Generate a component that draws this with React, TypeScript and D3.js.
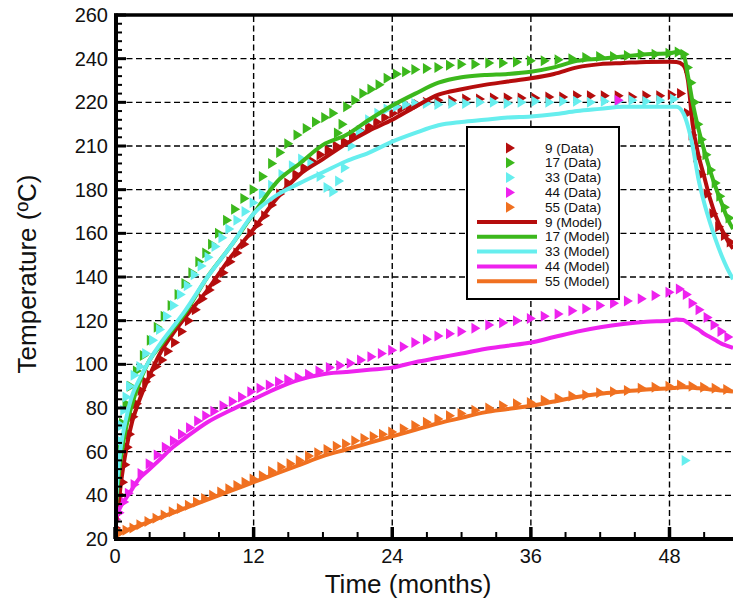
import React from "react";
import * as d3 from "d3";

const W = 733;
const H = 605;

const xTicks = [0, 12, 24, 36, 48];
const xTickLabels = ["0", "12", "24", "36", "48"];
const xMinorTicks = [3, 6, 9, 15, 18, 21, 27, 30, 33, 39, 42, 45, 51];
const yTicks = [20, 40, 60, 80, 100, 120, 140, 160, 180, 200, 220, 240, 260];
const yTickLabels = ["20", "40", "60", "80", "100", "120", "140", "160", "180", "210", "220", "240", "260"];

const modelTime = [0, 0.25, 0.5, 1, 1.5, 2, 3, 4, 5, 6, 8, 10, 12, 14, 16, 18, 20, 22, 24, 26, 28, 30, 32, 34, 36, 38, 40, 42, 44, 46, 48, 48.6, 49.2, 49.6, 50, 50.5, 51, 51.5, 52, 52.5, 53, 53.5];
const model9 = [24, 33, 45, 62, 74, 82, 95, 106, 114, 121, 134, 149, 162, 176, 187, 194, 201, 207, 212, 218, 223.5, 226, 228, 229.5, 231, 233, 236, 237.5, 238, 238.5, 238.6, 238.5, 237, 230, 210, 196, 186, 176, 168, 162, 157, 153];
const model17 = [30, 45, 57, 72, 82, 90, 102, 109, 116, 123, 140, 154, 169, 183.5, 192, 200.5, 205, 212, 218.5, 224, 229, 231.5, 232.5, 233, 234, 236, 239, 240, 241, 242, 242.5, 243, 242, 232, 220, 208, 198, 189, 181, 174, 167, 162];
const model33 = [30, 50, 62, 76, 86, 92, 102, 110, 117, 124, 140, 154, 169, 177.5, 183, 188, 193, 197, 202, 206, 209.5, 211, 212, 213, 213.5, 214.5, 216, 217, 218, 218, 218, 218, 215, 209, 200, 185, 174, 165, 157, 150, 144, 139];
const model44 = [28, 32, 35, 39, 43, 47, 52, 57, 62, 66, 73.5, 79, 84, 89, 93, 95.5, 96.5, 97.5, 98.5, 101, 103, 105, 107, 108.5, 110, 112.5, 115, 117, 118.5, 119.5, 120, 120.5, 120.3, 119, 117.5, 116, 114, 112.5, 111, 109.5, 108.5, 107.5];
const model55 = [22, 22.5, 23, 24, 25, 26, 28, 30, 32, 34, 38, 42, 46, 50, 54, 58, 61, 64, 67, 70, 73, 75.5, 78, 79.5, 81, 83, 85, 86.5, 87.5, 88.5, 89, 89.3, 89.5, 89.5, 89.3, 89, 88.8, 88.5, 88.3, 88, 87.8, 87.5];

const data9Time = [0.1, 0.3, 0.5, 0.7, 0.9, 1.1, 1.3, 1.6, 1.9, 2.3, 2.7, 3.1, 3.6, 4.1, 4.6, 5.2, 5.8, 6.4, 7.0, 7.6, 8.2, 8.8, 9.4, 10.0, 10.6, 11.2, 11.8, 12.4, 13.0, 13.6, 14.3, 15.0, 15.7, 16.4, 17.1, 17.8, 18.5, 19.2, 19.9, 20.6, 21.3, 22.0, 22.7, 23.4, 24.1, 24.8, 25.5, 26.2, 27.0, 28.0, 29.2, 30.4, 31.6, 32.8, 34.0, 35.2, 36.4, 37.6, 38.8, 40.0, 41.2, 42.4, 43.6, 44.8, 46.0, 47.2, 48.2, 49.0, 49.6, 50.0, 50.4, 50.8, 51.3, 51.8, 52.3, 52.8, 53.3];
const data9Temp = [25, 32, 40, 46, 54, 62, 68, 76, 82, 88, 92, 95, 99, 102, 106, 110, 115, 120, 125, 130, 134, 138, 142, 147, 151, 155, 160, 164, 168, 173, 178, 183, 187, 190, 193, 196, 198, 200, 202, 205, 207, 209, 211, 213, 215, 217, 218, 219, 220, 221, 221, 221.5, 221.5, 222, 222, 222, 222, 222.5, 222.5, 223, 223, 223, 223, 222.5, 223, 223, 223.5, 224, 215, 205, 195, 187, 178, 169, 163, 159, 156];

const data17Time = [0.1, 0.3, 0.5, 0.7, 1.0, 1.4, 1.9, 2.5, 3.1, 3.7, 4.3, 4.9, 5.5, 6.1, 6.7, 7.3, 7.9, 8.4, 9.0, 9.7, 10.4, 11.2, 12.0, 12.8, 13.6, 14.3, 15.0, 15.8, 16.6, 17.4, 18.2, 18.9, 19.3, 19.7, 20.1, 20.8, 21.5, 22.2, 22.9, 23.6, 24.4, 25.2, 26.0, 27.0, 28.0, 29.0, 30.0, 31.2, 32.4, 33.6, 34.8, 36.0, 37.2, 38.4, 39.6, 40.8, 42.0, 43.2, 44.4, 45.6, 46.8, 48.0, 48.8, 49.3, 49.6, 49.9, 50.2, 50.5, 50.8, 51.2, 51.6, 52.0, 52.4, 52.8, 53.2];
const data17Temp = [32, 48, 62, 73, 82, 90, 97, 104, 111, 117, 122, 127, 132, 137, 142, 147, 151, 155, 160, 166, 171, 176, 180, 186, 192, 197, 201, 205, 208, 211, 213, 215, 206, 210, 218, 221, 224, 226, 228, 231, 233, 234, 235, 235.5, 236, 237, 237.5, 237.5, 238, 238, 238.5, 239, 239, 239.5, 240, 240.5, 241, 241, 241.5, 242, 242, 242.5, 243, 242, 236, 229, 220, 210, 203, 196, 189, 183, 177, 172, 167];

const data33Time = [0.1, 0.2, 0.3, 0.4, 0.5, 0.6, 0.8, 1.0, 1.3, 1.7, 2.2, 2.7, 3.3, 3.9, 4.5, 5.1, 5.7, 6.3, 6.9, 7.5, 8.1, 8.7, 9.3, 9.9, 10.6, 11.3, 12.0, 12.8, 13.6, 14.5, 15.4, 16.2, 17.0, 17.8, 18.4, 18.9, 19.4, 19.9, 20.5, 21.2, 22.0, 22.8, 23.6, 24.4, 25.2, 26.0, 27.0, 28.0, 29.2, 30.4, 31.6, 32.8, 34.0, 35.2, 36.4, 37.6, 38.8, 40.0, 41.2, 42.4, 43.6, 44.8, 46.0, 47.2, 48.4, 49.4];
const data33Temp = [35, 42, 50, 58, 65, 72, 79, 85, 90, 95, 99, 105, 111, 116, 122, 127, 132, 136, 141, 145, 149, 154, 158, 162, 166, 170, 174, 178, 182, 187, 191, 194, 192, 186, 181, 179, 184, 190, 200, 207, 212, 215, 217, 218, 219, 219.5, 219.5, 219, 219.5, 219.5, 220, 220, 219.5, 220, 220.5, 220, 220.5, 220.5, 220, 220.5, 220.5, 221, 220.5, 221, 221.5, 56];

const data44Time = [0.1, 0.4, 0.8, 1.2, 1.7, 2.3, 3.0, 3.7, 4.4, 5.1, 5.8, 6.5, 7.2, 7.9, 8.6, 9.4, 10.2, 11.0, 11.8, 12.6, 13.4, 14.2, 15.0, 15.9, 16.8, 17.7, 18.6, 19.5, 20.4, 21.3, 22.2, 23.1, 24.0, 25.0, 26.0, 27.0, 28.0, 29.0, 30.0, 31.2, 32.4, 33.6, 34.8, 36.0, 37.2, 38.4, 39.6, 40.8, 42.0, 43.2, 43.6, 44.4, 45.6, 46.8, 48.0, 48.9, 49.5, 50.0, 50.6, 51.3, 51.9, 52.5, 53.1];
const data44Temp = [29, 32, 37, 41, 45, 50, 54.5, 58.5, 62, 65, 68, 71, 74, 76.5, 78.5, 81, 83, 85, 87.5, 89, 90.5, 92, 93, 94, 95.5, 97, 98.5, 99.5, 100.5, 102, 103.5, 105, 106.5, 108, 110, 111.5, 113, 114, 115, 116.5, 118, 119, 120, 121, 122, 123, 124.5, 125.5, 127, 128, 221, 129, 130, 131.5, 133, 134.5, 132, 128, 125, 121.5, 118, 115, 112.5];

const data55Time = [0.1, 0.5, 1.0, 1.6, 2.2, 2.9, 3.6, 4.3, 5.0, 5.7, 6.4, 7.1, 7.8, 8.5, 9.2, 9.9, 10.6, 11.3, 12.0, 12.8, 13.6, 14.4, 15.2, 16.0, 16.8, 17.6, 18.4, 19.2, 20.0, 20.8, 21.6, 22.4, 23.2, 24.0, 25.0, 26.0, 27.0, 28.0, 29.0, 30.0, 31.2, 32.4, 33.6, 34.8, 36.0, 37.2, 38.4, 39.6, 40.8, 42.0, 43.2, 44.4, 45.6, 46.8, 48.0, 49.0, 50.0, 51.0, 52.0, 53.0];
const data55Temp = [22, 23, 24, 25, 26.5, 28, 29.5, 31, 32.5, 34, 35.5, 37, 38.5, 40, 41.5, 43, 44.5, 46, 47.5, 49, 51, 53, 54.5, 56, 58, 59.5, 61, 62.5, 63.5, 65, 66, 67, 68, 69, 70.5, 72, 73.5, 75, 76.5, 77.5, 79, 80, 81, 82, 82.5, 83.5, 84.5, 85.5, 86, 87, 87.5, 88, 89, 89.5, 90, 90.5, 90, 89.5, 89, 88.5];

const seriesNames = ["9", "17", "33", "44", "55"];
const seriesColors = ["#b50d0d", "#3cb81c", "#66eeee", "#ee22ee", "#f07020"];
const modelSeries = [model9, model17, model33, model44, model55];
const dataSeries = [
  [data9Time, data9Temp],
  [data17Time, data17Temp],
  [data33Time, data33Temp],
  [data44Time, data44Temp],
  [data55Time, data55Temp],
];

const FONT = "'Liberation Sans', Arial, Helvetica, sans-serif";
const TRI = "M-4,-5.5L5,0L-4,5.5Z";

export default function App() {
  const x = d3.scaleLinear().domain([0, 48]).range([115, 669.5]);
  const y = d3.scaleLinear().domain([20, 260]).range([539, 15]);
  const line = d3
    .line<number>()
    .x((_, i) => x(modelTime[i]))
    .y((d) => y(d))
    .curve(d3.curveMonotoneX);

  const yMinor: number[] = [];
  for (let v = 20; v < 260; v += 4) if ((v - 20) % 20 !== 0) yMinor.push(v);

  const legendX = 467;
  const legendY = 127;
  const rowY = (i: number) => 148 + i * 14.8;

  return (
    <svg width={W} height={H} style={{ position: "absolute", left: 0, top: 0, background: "#fff" }} fontFamily={FONT}>
      <defs>
        <clipPath id="plotclip">
          <rect x={115} y={15} width={W - 115} height={524} />
        </clipPath>
      </defs>
      <rect x={0} y={0} width={W} height={H} fill="#fff" />
      {/* grid */}
      <g stroke="#000" strokeWidth={1.4} strokeDasharray="6,3.5">
        {yTicks.filter((v) => v > 20 && v < 260).map((v) => (
          <line key={"gy" + v} x1={117} x2={W} y1={y(v)} y2={y(v)} />
        ))}
        {xTicks.filter((t) => t > 0).map((t) => (
          <line key={"gx" + t} x1={x(t)} x2={x(t)} y1={16} y2={538} />
        ))}
      </g>
      {/* data markers */}
      <g clipPath="url(#plotclip)">
        {dataSeries.map(([ts, vs], si) => (
          <g key={"d" + si} fill={seriesColors[si]}>
            {ts.map((t, i) => (
              <path key={i} d={TRI} transform={`translate(${x(t)},${y(vs[i])})`} />
            ))}
          </g>
        ))}
        {modelSeries.map((m, si) => (
          <path key={"m" + si} d={line(m) || ""} fill="none" stroke={seriesColors[si]} strokeWidth={4} strokeLinejoin="round" />
        ))}
      </g>
      {/* axes frame */}
      <line x1={114} x2={W} y1={15} y2={15} stroke="#000" strokeWidth={3.5} />
      <line x1={116} x2={116} y1={13.5} y2={541} stroke="#000" strokeWidth={4} />
      <line x1={114} x2={W} y1={539} y2={539} stroke="#000" strokeWidth={4} />
      {/* y ticks */}
      <g stroke="#000">
        {yTicks.map((v) => (
          <line key={"yt" + v} x1={116} x2={126} y1={y(v)} y2={y(v)} strokeWidth={3} />
        ))}
        {yMinor.map((v) => (
          <line key={"ym" + v} x1={116} x2={122} y1={y(v)} y2={y(v)} strokeWidth={2} />
        ))}
        {xTicks.map((t) => (
          <line key={"xt" + t} x1={x(t)} x2={x(t)} y1={539} y2={527} strokeWidth={3.5} />
        ))}
        {xMinorTicks.map((t) => (
          <line key={"xm" + t} x1={x(t)} x2={x(t)} y1={539} y2={532} strokeWidth={2} />
        ))}
      </g>
      {/* tick labels */}
      <g fontSize={20} fill="#111">
        {yTicks.map((v, i) => (
          <text key={"yl" + v} x={108} y={y(v) + 7} textAnchor="end">
            {yTickLabels[i]}
          </text>
        ))}
        {xTicks.map((t, i) => (
          <text key={"xl" + t} x={x(t)} y={563} textAnchor="middle">
            {xTickLabels[i]}
          </text>
        ))}
      </g>
      <text x={408} y={593} textAnchor="middle" fontSize={26} fill="#111">
        Time (months)
      </text>
      <text transform="translate(36,274) rotate(-90)" textAnchor="middle" fontSize={26} fill="#111">
        Temperature (ºC)
      </text>
      {/* legend */}
      <g>
        <rect x={legendX} y={legendY} width={152} height={172} fill="#fff" stroke="#000" strokeWidth={2} />
        {seriesNames.map((n, i) => (
          <g key={"ld" + n}>
            <path d={TRI} transform={`translate(510,${rowY(i)})`} fill={seriesColors[i]} />
            <text x={545} y={rowY(i) + 4.5} fontSize={13.5} fill="#111">
              {n} (Data)
            </text>
          </g>
        ))}
        {seriesNames.map((n, i) => (
          <g key={"lm" + n}>
            <line x1={477} x2={537} y1={rowY(i + 5)} y2={rowY(i + 5)} stroke={seriesColors[i]} strokeWidth={4} />
            <text x={545} y={rowY(i + 5) + 4.5} fontSize={13.5} fill="#111">
              {n} (Model)
            </text>
          </g>
        ))}
      </g>
    </svg>
  );
}
